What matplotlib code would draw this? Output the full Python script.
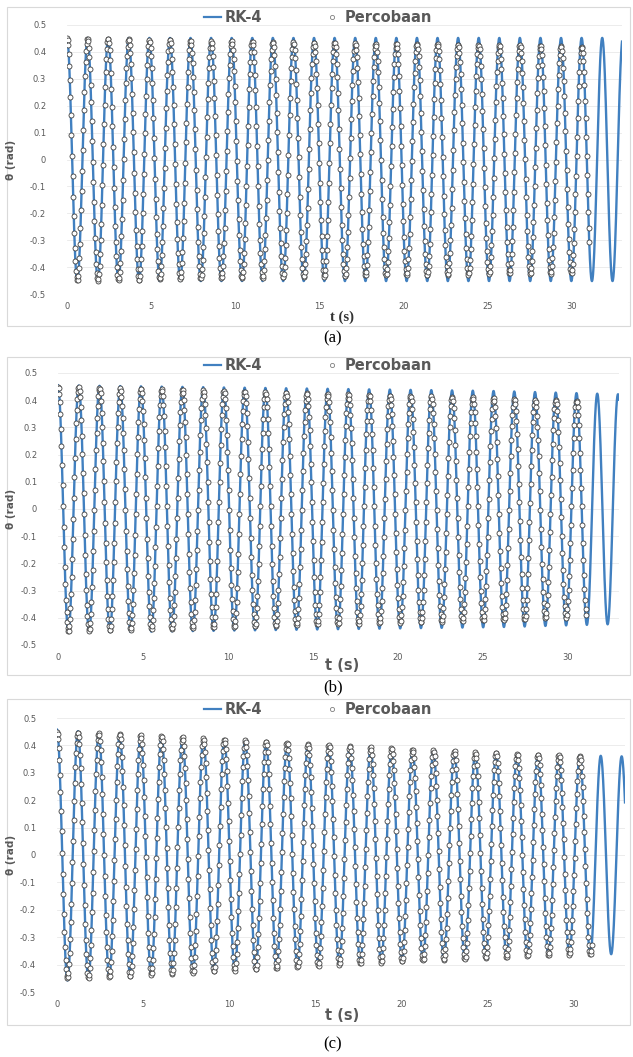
import numpy as np
import matplotlib.pyplot as plt
from matplotlib.lines import Line2D
from matplotlib.patches import Rectangle

W, H = 633, 1057

# period of the swing read from peak spacing (s)
periods = [1.224, 1.22, 1.215]

# amplitude of each cycle, RK-4 line (rad)
rk_a = [0.452, 0.452, 0.452, 0.452, 0.452, 0.452, 0.452, 0.452, 0.452, 0.452,
        0.452, 0.452, 0.452, 0.452, 0.452, 0.452, 0.452, 0.452, 0.452, 0.452,
        0.452, 0.452, 0.452, 0.452, 0.452, 0.452, 0.452, 0.452]
rk_b = [0.455, 0.454, 0.453, 0.452, 0.451, 0.450, 0.449, 0.448, 0.447, 0.446,
        0.445, 0.444, 0.443, 0.442, 0.441, 0.440, 0.439, 0.438, 0.437, 0.436,
        0.435, 0.434, 0.432, 0.430, 0.428, 0.426, 0.424, 0.422]
rk_c = [0.458, 0.452, 0.447, 0.443, 0.440, 0.436, 0.431, 0.427, 0.423, 0.419,
        0.415, 0.411, 0.406, 0.402, 0.398, 0.394, 0.390, 0.386, 0.383, 0.380,
        0.377, 0.374, 0.371, 0.368, 0.366, 0.364, 0.362, 0.360]

# amplitude of each cycle, experiment (Percobaan)
exp_a = [0.450, 0.450, 0.450, 0.448, 0.445, 0.445, 0.442, 0.440, 0.440, 0.440,
         0.438, 0.436, 0.435, 0.435, 0.432, 0.430, 0.430, 0.430, 0.430, 0.428,
         0.426, 0.425, 0.425, 0.424, 0.422, 0.420]
exp_b = [0.450, 0.448, 0.446, 0.444, 0.442, 0.440, 0.438, 0.436, 0.434, 0.432,
         0.430, 0.428, 0.426, 0.424, 0.422, 0.420, 0.418, 0.416, 0.414, 0.412,
         0.410, 0.408, 0.405, 0.402, 0.400, 0.398]
exp_c = [0.450, 0.448, 0.445, 0.442, 0.438, 0.434, 0.430, 0.426, 0.422, 0.418,
         0.414, 0.410, 0.405, 0.401, 0.397, 0.393, 0.389, 0.385, 0.382, 0.379,
         0.376, 0.373, 0.370, 0.367, 0.364, 0.362]

t_end_rk = 33.0
t_end_exp = 31.1
fps = 30  # video frame rate of the experiment

captions = ["(a)", "(b)", "(c)"]
xticks = [0, 5, 10, 15, 20, 25, 30]
yticks = [-0.5, -0.4, -0.3, -0.2, -0.1, 0, 0.1, 0.2, 0.3, 0.4, 0.5]

# pixel layout: chart box, plot area, legend y, xlabel y, caption y
layout = [
    dict(box=(7, 7, 630, 326), plot=(67, 25, 622, 294), leg=18, xl=317, cap=338, serif_xl=True),
    dict(box=(7, 357, 630, 675), plot=(58, 373, 619, 645), leg=366, xl=666, cap=687, serif_xl=False),
    dict(box=(7, 699, 630, 1025), plot=(57, 718, 625, 992), leg=710, xl=1015, cap=1044, serif_xl=False),
]

BLUE = "#4180c0"
GREY = "#595959"


def swing(t, amps, T):
    # cosine swing between the read extremes (alternating sign)
    half = T / 2.0
    k = np.floor(t / half).astype(int)
    ph = t / half - k
    a0 = np.where(k % 2 == 0, 1, -1) * np.take(amps, np.minimum(k // 2, len(amps) - 1))
    a1 = np.where(k % 2 == 0, -1, 1) * np.take(amps, np.minimum((k + 1) // 2, len(amps) - 1))
    return a0 + (a1 - a0) * (1 - np.cos(np.pi * ph)) / 2


def fig_rect(x0, y0, x1, y1):
    return [x0 / W, 1 - y1 / H, (x1 - x0) / W, (y1 - y0) / H]


fig = plt.figure(figsize=(W / 100, H / 100), dpi=100)
fig.patch.set_facecolor("white")

rk_sets = [rk_a, rk_b, rk_c]
exp_sets = [exp_a, exp_b, exp_c]

for i in range(3):
    L = layout[i]
    T = periods[i]
    bx0, by0, bx1, by1 = L["box"]
    fig.add_artist(Rectangle((bx0 / W, 1 - by1 / H), (bx1 - bx0) / W, (by1 - by0) / H,
                             transform=fig.transFigure, fill=False, ec="#d9d9d9", lw=0.8))

    ax = fig.add_axes(fig_rect(*L["plot"]))
    t_rk = np.linspace(0, t_end_rk, 4000)
    t_ex = np.arange(0, t_end_exp, 1.0 / fps)
    ax.plot(t_rk, swing(t_rk, rk_sets[i], T), color=BLUE, lw=1.7, zorder=2)
    ax.plot(t_ex, swing(t_ex, exp_sets[i], T), ls="none", marker="o", ms=3.6,
            mfc="white", mec="#3f3f3f", mew=0.6, zorder=3)

    ax.set_xlim(0, t_end_rk)
    ax.set_ylim(-0.5, 0.5)
    ax.set_xticks(xticks)
    ax.set_yticks(yticks)
    ax.set_yticklabels([f"{v:g}" for v in yticks])
    ax.tick_params(length=0, labelsize=6, colors=GREY)
    ax.tick_params(axis="y", pad=15)
    ax.tick_params(axis="x", pad=6)
    for s in ax.spines.values():
        s.set_visible(False)
    ax.grid(axis="y", color="#e9e9e9", lw=0.6)
    ax.set_axisbelow(True)

    px0, py0, px1, py1 = L["plot"]
    fig.text(11 / W, 1 - (py0 + py1) / 2 / H, "θ (rad)", rotation=90, ha="center",
             va="center", fontsize=7.5, fontweight="bold", color=GREY)
    if L["serif_xl"]:
        fig.text(342 / W, 1 - L["xl"] / H, "t (s)", ha="center", va="center",
                 fontsize=10.5, fontweight="bold", family="Liberation Serif", color="#333333")
    else:
        fig.text(342 / W, 1 - L["xl"] / H, "t (s)", ha="center", va="center",
                 fontsize=10.5, fontweight="bold", color=GREY)
    fig.text(333 / W, 1 - L["cap"] / H, captions[i], ha="center", va="center",
             fontsize=12, family="Liberation Serif", color="black")

    handles = [Line2D([], [], color=BLUE, lw=1.6),
               Line2D([], [], ls="none", marker="o", ms=3, mfc="white", mec="#7f7f7f", mew=0.6)]
    fig.legend(handles, ["RK-4", "Percobaan"], loc="center", ncol=2,
               bbox_to_anchor=(318 / W, 1 - L["leg"] / H), frameon=False,
               handlelength=1.2, handletextpad=0.25, columnspacing=4.2,
               prop=dict(size=10.5, weight="bold"), labelcolor=GREY)

fig.savefig("out.png", dpi=100)
